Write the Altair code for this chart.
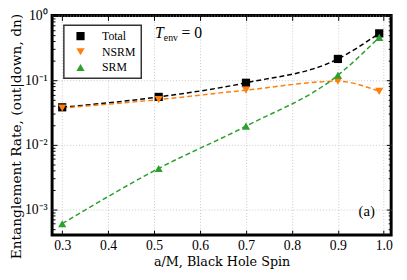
import altair as alt
import pandas as pd

spin = [0.3, 0.51, 0.7, 0.9, 0.99]
total = [0.038, 0.055, 0.091, 0.213, 0.53]
nsrm = [0.037, 0.050, 0.070, 0.096, 0.067]
srm = [0.0006, 0.0043, 0.0194, 0.119, 0.46]

series = ["Total", "NSRM", "SRM"]
colors = ["#000000", "#ff7f0e", "#2ca02c"]
shapes = ["square", "triangle-down", "triangle-up"]

x_ticks = [0.3, 0.4, 0.5, 0.6, 0.7, 0.8, 0.9, 1.0]
y_major = [0.001, 0.01, 0.1, 1.0]
x_domain = [0.278, 1.016]
y_domain = [0.0004, 1.0]
y_minor = [k * 10.0 ** e for e in (-4, -3, -2, -1) for k in range(2, 10)
           if y_domain[0] <= k * 10.0 ** e <= y_domain[1]]

rows = []
for name, vals in zip(series, [total, nsrm, srm]):
    for s, v in zip(spin, vals):
        rows.append({"series": name, "spin": s, "rate": v})
df = pd.DataFrame(rows)

LFONT = "Liberation Serif"
TFONT = "DejaVu Serif"
xs = alt.Scale(domain=x_domain, nice=False, zero=False)
ys = alt.Scale(type="log", domain=y_domain, nice=False)

base = alt.Chart(df)

label_expr = ("datum.value > 0.5 ? '10⁰' : datum.value > 0.05 ? '10⁻¹' : "
              "datum.value > 0.005 ? '10⁻²' : '10⁻³'")

main_x = alt.Axis(
    orient="bottom", values=x_ticks, format=".1f", ticks=False, domain=False,
    grid=True, gridDash=[1, 2], gridColor="#bbbbbb", gridWidth=0.8,
    labelFont=LFONT, labelFontSize=14, labelColor="black", labelPadding=4,
    title="a/M, Black Hole Spin", titleFont=TFONT, titleFontSize=13,
    titleFontWeight="normal", titleColor="black", titlePadding=3)
main_y = alt.Axis(
    orient="left", values=y_major, labelExpr=label_expr, ticks=False, domain=False,
    grid=True, gridDash=[1, 2], gridColor="#bbbbbb", gridWidth=0.8,
    labelFont=LFONT, labelFontSize=14, labelColor="black", labelPadding=5,
    title="Entanglement Rate, (out|down, dn)", titleFont=TFONT, titleFontSize=14,
    titleFontWeight="normal", titleColor="black", titlePadding=1, titleY=123)

line_layers = []
for i, (name, col) in enumerate(zip(series, colors)):
    line_layers.append(
        base.transform_filter(alt.datum.series == name).mark_line(
            strokeDash=[5, 3], strokeWidth=1.5, interpolate="monotone", color=col
        ).encode(
            x=alt.X("spin:Q", scale=xs, axis=main_x if i == 0 else None),
            y=alt.Y("rate:Q", scale=ys, axis=main_y if i == 0 else None),
        )
    )

legend = alt.Legend(title=None, orient="none", legendX=12, legendY=10, padding=5,
                    strokeColor="#333333", fillColor="white", cornerRadius=0,
                    labelFont=LFONT, labelFontSize=12, labelColor="black",
                    symbolSize=70, symbolOffset=6, labelOffset=16, rowPadding=4,
                    columnPadding=0, symbolStrokeWidth=0)

points = base.mark_point(filled=True, size=70, opacity=1).encode(
    x=alt.X("spin:Q", scale=xs, axis=None),
    y=alt.Y("rate:Q", scale=ys, axis=None),
    color=alt.Color("series:N", scale=alt.Scale(domain=series, range=colors), legend=legend),
    shape=alt.Shape("series:N", scale=alt.Scale(domain=series, range=shapes), legend=legend),
)


def tick_layer(xaxis, yaxis):
    return base.mark_point(opacity=0).encode(
        x=alt.X("spin:Q", scale=xs, axis=xaxis),
        y=alt.Y("rate:Q", scale=ys, axis=yaxis),
    )


def tax(orient, values, size):
    return alt.Axis(orient=orient, values=values, labels=False, domain=False, grid=False,
                    ticks=True, tickSize=size, tickColor="black", tickWidth=1,
                    offset=-size, title=None)


t1 = tick_layer(tax("bottom", x_ticks, 5), tax("left", y_major, 5))
t2 = tick_layer(tax("top", x_ticks, 5), tax("right", y_major, 5))
t3 = tick_layer(None, tax("left", y_minor, 3))
t4 = tick_layer(None, tax("right", y_minor, 3))

ann = pd.DataFrame({"k": [0]})
t_main = alt.Chart(ann).mark_text(font=LFONT, fontSize=16, fontStyle="italic", align="left",
                                  baseline="alphabetic").encode(
    x=alt.value(105), y=alt.value(23), text=alt.value("T"))
t_sub = alt.Chart(ann).mark_text(font=LFONT, fontSize=10, align="left",
                                 baseline="alphabetic").encode(
    x=alt.value(114), y=alt.value(26), text=alt.value("env"))
t_eq = alt.Chart(ann).mark_text(font=LFONT, fontSize=16, align="left",
                                baseline="alphabetic").encode(
    x=alt.value(132), y=alt.value(23), text=alt.value("= 0"))
t_a = alt.Chart(ann).mark_text(font=LFONT, fontSize=15, align="center",
                               baseline="middle").encode(
    x=alt.value(321), y=alt.value(200), text=alt.value("(a)"))

chart = alt.layer(*line_layers, points, t1, t2, t3, t4, t_main, t_sub, t_eq, t_a).resolve_axis(
    x="independent", y="independent"
).properties(
    width=346, height=224, autosize="none",
    padding={"left": 45, "top": 5, "right": 8, "bottom": 35},
).configure_view(
    stroke="black", strokeWidth=3
).configure_legend(
    strokeColor="#333333", strokeWidth=1.5
)

chart.save("out.html", embed_options={"renderer": "svg", "actions": False})
